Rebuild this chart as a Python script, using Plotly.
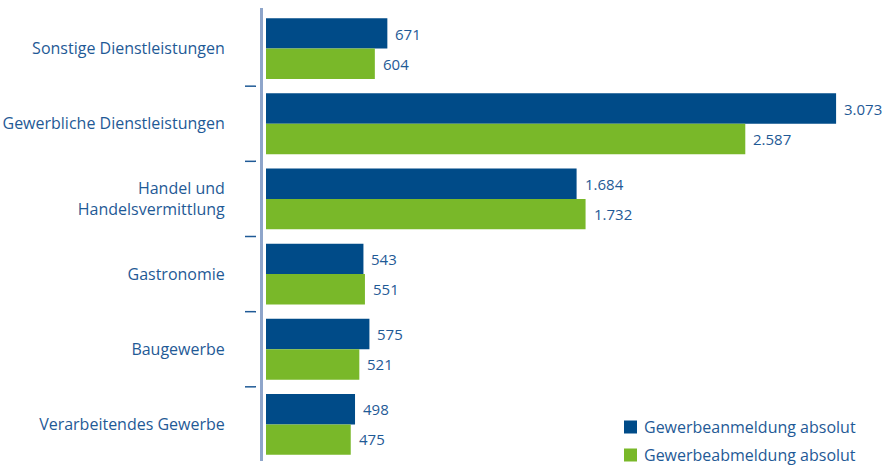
import plotly.graph_objects as go

# Gewerbean- und -abmeldungen nach Wirtschaftszweigen
categories = [
    "Sonstige Dienstleistungen",
    "Gewerbliche Dienstleistungen",
    "Handel und<br>Handelsvermittlung",
    "Gastronomie",
    "Baugewerbe",
    "Verarbeitendes Gewerbe",
]
anmeldungen = [671, 3073, 1684, 543, 575, 498]
abmeldungen = [604, 2587, 1732, 551, 521, 475]
series_names = ["Gewerbeanmeldung absolut", "Gewerbeabmeldung absolut"]

BLUE = "#004b88"
GREEN = "#79b829"
TEXT = "#1f5a96"
AXIS = "#8ea5ca"
FONT = "Open Sans"

W, H = 887, 465
ML, MR, MT, MB = 262, 10, 11, 3
PW = W - ML - MR
PH = H - MT - MB
XMAX = 3292


def fmt(v):
    return f"{v:,}".replace(",", ".")


def px_x(x):
    return (x - ML) / PW


def px_y(y):
    return (H - MB - y) / PH


fig = go.Figure()
series = [(series_names[0], anmeldungen, BLUE), (series_names[1], abmeldungen, GREEN)]
for name, vals, col in series:
    fig.add_trace(
        go.Bar(
            name=name,
            y=categories,
            x=vals,
            orientation="h",
            marker=dict(color=col, line=dict(width=0)),
            hoverinfo="skip",
            showlegend=False,
        )
    )

# value labels next to each bar
annotations = []
for vals, shift in [(anmeldungen, 15), (abmeldungen, -15)]:
    for cat, v in zip(categories, vals):
        annotations.append(
            dict(
                x=v, y=cat, xref="x", yref="y",
                text=fmt(v), showarrow=False,
                xanchor="left", yanchor="middle",
                xshift=6, yshift=shift,
                font=dict(family=FONT, size=15, color=TEXT),
            )
        )

shapes = []
# small separators between categories
for k in range(len(categories) - 1):
    shapes.append(
        dict(
            type="line", xref="paper", yref="y",
            x0=-17 / PW, x1=-6 / PW, y0=k + 0.5, y1=k + 0.5,
            line=dict(color=TEXT, width=1.5), layer="above",
        )
    )
# white gap between axis line and bar starts
shapes.append(
    dict(
        type="rect", xref="paper", yref="paper",
        x0=0, x1=4 / PW, y0=0, y1=1,
        fillcolor="white", line=dict(width=0), layer="above",
    )
)
# vertical axis line
shapes.append(
    dict(
        type="line", xref="paper", yref="paper",
        x0=-0.5 / PW, x1=-0.5 / PW, y0=1 / PH, y1=1 + 3 / PH,
        line=dict(color=AXIS, width=3), layer="above",
    )
)

# legend: colour square plus label
for (name, _, col), cy in zip(series, [427, 455]):
    shapes.append(
        dict(
            type="rect", xref="paper", yref="paper",
            x0=px_x(624), x1=px_x(637), y0=px_y(cy + 6.5), y1=px_y(cy - 6.5),
            fillcolor=col, line=dict(width=0), layer="above",
        )
    )
    annotations.append(
        dict(
            x=px_x(642), y=px_y(cy), xref="paper", yref="paper",
            text=name, showarrow=False,
            xanchor="left", yanchor="middle",
            font=dict(family=FONT, size=16, color=TEXT),
        )
    )

fig.update_layout(
    width=W, height=H,
    margin=dict(l=ML, r=MR, t=MT, b=MB),
    paper_bgcolor="white", plot_bgcolor="white",
    barmode="group", bargap=0.19, bargroupgap=0,
    font=dict(family=FONT, size=16, color=TEXT),
    xaxis=dict(range=[0, XMAX], visible=False, fixedrange=True),
    yaxis=dict(
        autorange="reversed",
        showline=False, showgrid=False, zeroline=False,
        ticks="outside", ticklen=33, tickcolor="rgba(0,0,0,0)",
        tickfont=dict(family=FONT, size=16, color=TEXT),
        fixedrange=True,
    ),
    annotations=annotations,
    shapes=shapes,
    showlegend=False,
)

fig.write_html("out.html")
